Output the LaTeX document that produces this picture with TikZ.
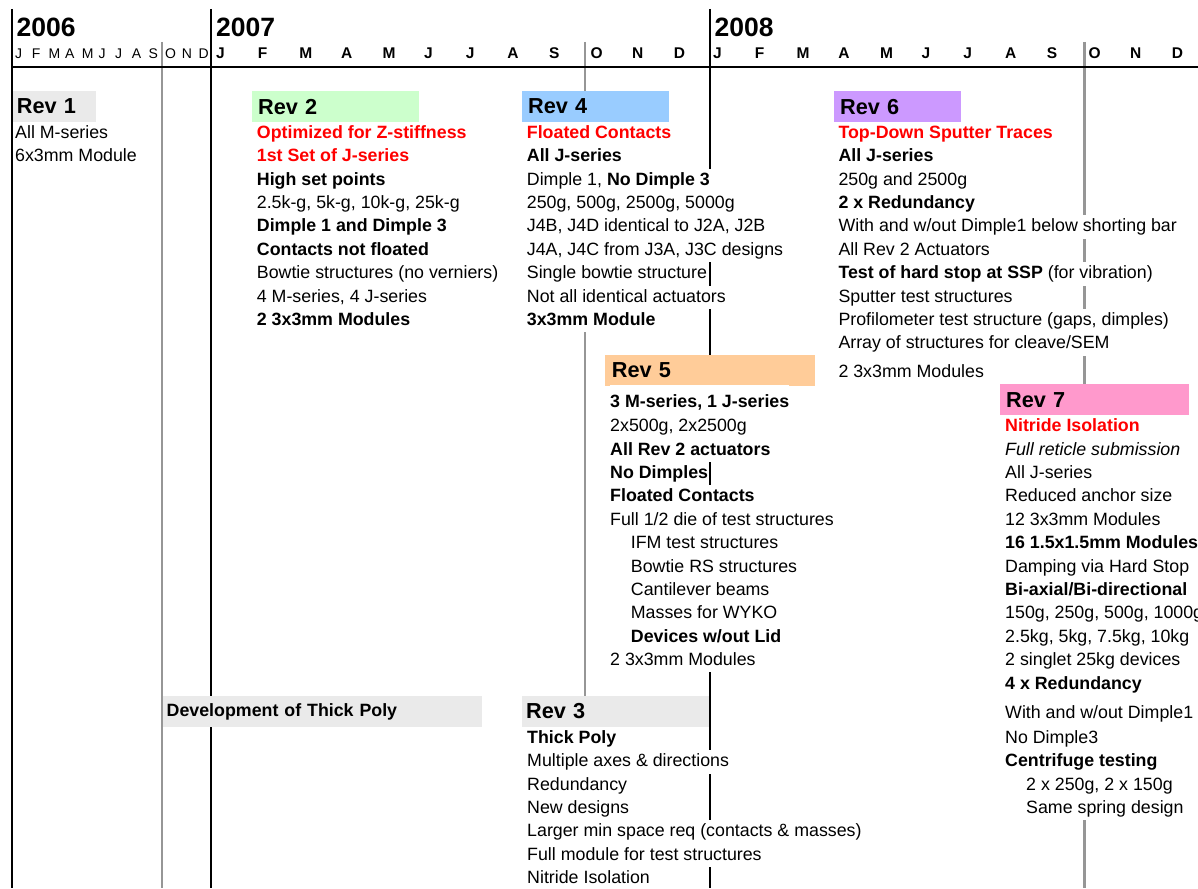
\documentclass[tikz,border=0pt]{standalone}
\usepackage{fontspec}
\setmainfont{Liberation Sans}
\definecolor{gridgray}{RGB}{150,150,150}
\definecolor{cgray}{RGB}{234,234,234}
\definecolor{cgreen}{RGB}{204,255,204}
\definecolor{cblue}{RGB}{153,204,255}
\definecolor{cpurple}{RGB}{204,153,255}
\definecolor{cpeach}{RGB}{255,204,153}
\definecolor{cpink}{RGB}{255,153,204}
\definecolor{cred}{RGB}{255,0,0}
\newcommand\fsz[1]{\fontsize{#1}{#1}\selectfont}
\begin{document}
\begin{tikzpicture}[x=1pt,y=-1pt,
  cell/.style={anchor=base west, inner sep=0pt, fill=white, text height=16.6pt, text depth=6.8pt, font=\fsz{17.8}},
  bf/.style={font=\fsz{17.8}\bfseries},
  it/.style={font=\fsz{17.8}\itshape},
  redb/.style={font=\fsz{17.8}\bfseries, text=cred},
  hdr/.style={anchor=north west, inner ysep=0pt, align=left, font=\fsz{21.7}\bfseries},
  yr/.style={anchor=base west, inner sep=0pt, font=\fsz{26.5}\bfseries},
  mon/.style={anchor=base west, inner sep=0pt, font=\fsz{15.5}\bfseries},
  smon/.style={anchor=base west, inner sep=0pt, font=\fsz{14}},
  blk/.style={line width=2.2pt, black},
  gry/.style={line width=2.4pt, gridgray}]
\useasboundingbox (0,0) rectangle (1198,888);
\clip (0,0) rectangle (1198,888);
\fill[white] (0,0) rectangle (1198,888);

% grid line end points
\coordinate (k1t) at (11.7,9);   \coordinate (k1b) at (11.7,888);
\coordinate (k2t) at (210.7,9);  \coordinate (k2b) at (210.7,888);
\coordinate (k3t) at (710,9);    \coordinate (k3b) at (710,888);
\coordinate (g1t) at (161.7,42); \coordinate (g1b) at (161.7,888);
\coordinate (g2t) at (585,42);   \coordinate (g2b) at (585,888);
\coordinate (g3t) at (1084.5,42);\coordinate (g3b) at (1084.5,888);
\coordinate (hl) at (11.7,67);   \coordinate (hr) at (1198,67);

\draw[gry] (g1t) -- (g1b);
\draw[gry] (g2t) -- (g2b);
\draw[gry] (g3t) -- (g3b);
\draw[blk] (k1t) -- (k1b);
\draw[blk] (k2t) -- (k2b);
\draw[blk] (k3t) -- (k3b);
\draw[line width=2.8pt] (hl) -- (hr);

% years and months
\node[yr] (y6) at (16.5,37) {2006};
\node[yr] (y7) at (216,37) {2007};
\node[yr] (y8) at (714.5,37) {2008};
\foreach \m [count=\i from 0] in {J,F,M,A,M,J,J,A,S,O,N,D}
  \node[smon] (m6-\i) at ({15+16.67*\i},59) {\m};
\foreach \m [count=\i from 0] in {J,F,M,A,M,J,J,A,S,O,N,D}
  \node[mon] (m7-\i) at ({216+41.6*\i},59) {\m};
\foreach \m [count=\i from 0] in {J,F,M,A,M,J,J,A,S,O,N,D}
  \node[mon] (m8-\i) at ({713+41.7*\i},59) {\m};

% header boxes
\node[hdr, fill=cgray, text width=75.3pt, inner xsep=4pt, minimum height=30.7pt] (rev1) at (12.7,91) {Rev 1};
\node[hdr, fill=cgreen, text width=154.7pt, inner xsep=6.3pt, minimum height=30.7pt] (rev2) at (251.7,91) {Rev 2};
\node[hdr, fill=cblue, text width=134.7pt, inner xsep=6.3pt, minimum height=30.7pt] (rev4) at (521.7,91) {Rev 4};
\node[hdr, fill=cpurple, text width=114.7pt, inner xsep=6pt, minimum height=30.7pt] (rev6) at (834,91) {Rev 6};
\node[hdr, fill=cpeach, text width=196.6pt, inner xsep=6.7pt, minimum height=30.7pt] (rev5) at (605,355) {Rev 5};
\node[hdr, fill=cpink, text width=177pt, inner xsep=6pt, minimum height=31pt] (rev7) at (1000,384) {Rev 7};
\node[hdr, fill=cgray, text width=178.7pt, inner xsep=4.3pt, minimum height=30.9pt] (rev3) at (521.7,695.8) {Rev 3};
\node[hdr, fill=cgray, text width=312pt, inner xsep=3.5pt, minimum height=30.9pt, font=\fsz{17.8}\bfseries] (dev) at (163,695.8) {Development of Thick Poly};

% Rev 1
\node[cell] (r1-1) at (15,138.3) {All M-series};
\node[cell] (r1-2) at (15,161.7) {6x3mm Module};

% Rev 2
\node[cell,redb] (r2-1) at (256.7,138.3) {Optimized for Z-stiffness};
\node[cell,redb] (r2-2) at (256.7,161.7) {1st Set of J-series};
\node[cell,bf] (r2-3) at (256.7,185.1) {High set points};
\node[cell] (r2-4) at (256.7,208.5) {2.5k-g, 5k-g, 10k-g, 25k-g};
\node[cell,bf] (r2-5) at (256.7,231.9) {Dimple 1 and Dimple 3};
\node[cell,bf] (r2-6) at (256.7,255.3) {Contacts not floated};
\node[cell] (r2-7) at (256.7,278.7) {Bowtie structures (no verniers)};
\node[cell] (r2-8) at (256.7,302.1) {4 M-series, 4 J-series};
\node[cell,bf] (r2-9) at (256.7,325.5) {2 3x3mm Modules};

% Rev 4
\node[cell,redb] (r4-1) at (526.7,138.3) {Floated Contacts};
\node[cell,bf] (r4-2) at (526.7,161.7) {All J-series};
\node[cell] (r4-3) at (526.7,185.1) {Dimple 1, \textbf{No Dimple 3}\rule{7pt}{0pt}};
\node[cell] (r4-4) at (526.7,208.5) {250g, 500g, 2500g, 5000g};
\node[cell] (r4-5) at (526.7,231.9) {J4B, J4D identical to J2A, J2B};
\node[cell] (r4-6) at (526.7,255.3) {J4A, J4C from J3A, J3C designs};
\node[cell] (r4-7) at (526.7,278.7) {Single bowtie structure};
\node[cell] (r4-8) at (526.7,302.1) {Not all identical actuators};
\node[cell,bf] (r4-9) at (526.7,325.5) {3x3mm Module};

% Rev 6
\node[cell,redb] (r6-1) at (838.3,138.3) {Top-Down Sputter Traces};
\node[cell,bf] (r6-2) at (838.3,161.7) {All J-series};
\node[cell] (r6-3) at (838.3,185.1) {250g and 2500g};
\node[cell,bf] (r6-4) at (838.3,208.5) {2 x Redundancy};
\node[cell] (r6-5) at (838.3,231.9) {With and w/out Dimple1 below shorting bar};
\node[cell] (r6-6) at (838.3,255.3) {All Rev 2 Actuators};
\node[cell] (r6-7) at (838.3,278.7) {\textbf{Test of hard stop at SSP} (for vibration)};
\node[cell] (r6-8) at (838.3,302.1) {Sputter test structures};
\node[cell] (r6-9) at (838.3,325.5) {Profilometer test structure (gaps, dimples)};
\node[cell] (r6-10) at (838.3,348.9) {Array of structures for cleave/SEM};
\node[cell] (r6-11) at (838.3,377.5) {2 3x3mm Modules};

% Rev 5
\node[cell,bf,text height=22pt,text depth=8pt] (r5-1) at (610,407) {3 M-series, 1 J-series};
\node[cell] (r5-2) at (610,431.6) {2x500g, 2x2500g};
\node[cell,bf] (r5-3) at (610,455) {All Rev 2 actuators};
\node[cell,bf] (r5-4) at (610,478.4) {No Dimples};
\node[cell,bf] (r5-5) at (610,501.8) {Floated Contacts};
\node[cell] (r5-6) at (610,525.2) {Full 1/2 die of test structures};
\node[cell] (r5-7) at (630.7,548.6) {IFM test structures};
\node[cell] (r5-8) at (630.7,572) {Bowtie RS structures};
\node[cell] (r5-9) at (630.7,595.4) {Cantilever beams};
\node[cell] (r5-10) at (630.7,618.8) {Masses for WYKO};
\node[cell,bf] (r5-11) at (630.7,642.2) {Devices w/out Lid};
\node[cell] (r5-12) at (610,665.6) {2 3x3mm Modules};

% Rev 7
\node[cell,redb] (r7-1) at (1005,431.6) {Nitride Isolation};
\node[cell,it] (r7-2) at (1005,455) {Full reticle submission};
\node[cell] (r7-3) at (1005,478.4) {All J-series};
\node[cell] (r7-4) at (1005,501.8) {Reduced anchor size};
\node[cell] (r7-5) at (1005,525.2) {12 3x3mm Modules};
\node[cell,bf] (r7-6) at (1005,548.6) {16 1.5x1.5mm Modules};
\node[cell] (r7-7) at (1005,572) {Damping via Hard Stop};
\node[cell,bf] (r7-8) at (1005,595.4) {Bi-axial/Bi-directional};
\node[cell] (r7-9) at (1005,618.8) {150g, 250g, 500g, 1000g};
\node[cell] (r7-10) at (1005,642.2) {2.5kg, 5kg, 7.5kg, 10kg};
\node[cell] (r7-11) at (1005,665.6) {2 singlet 25kg devices};
\node[cell,bf] (r7-12) at (1005,689) {4 x Redundancy};
\node[cell,text height=22.5pt,text depth=8.4pt] (r7-13) at (1005,718.3) {With and w/out Dimple1};
\node[cell] (r7-14) at (1005,743.3) {No Dimple3};
\node[cell,bf] (r7-15) at (1005,766.7) {Centrifuge testing};
\node[cell] (r7-16) at (1026,790.1) {2 x 250g, 2 x 150g};
\node[cell] (r7-17) at (1026,813.5) {Same spring design};

% Rev 3
\node[cell,bf] (r3-1) at (527,743.3) {Thick Poly};
\node[cell] (r3-2) at (527,766.7) {Multiple axes \& directions};
\node[cell] (r3-3) at (527,790.1) {Redundancy};
\node[cell] (r3-4) at (527,813.5) {New designs};
\node[cell] (r3-5) at (527,836.9) {Larger min space req (contacts \& masses)};
\node[cell] (r3-6) at (527,860.3) {Full module for test structures};
\node[cell] (r3-7) at (527,883.7) {Nitride Isolation};
\end{tikzpicture}
\end{document}
